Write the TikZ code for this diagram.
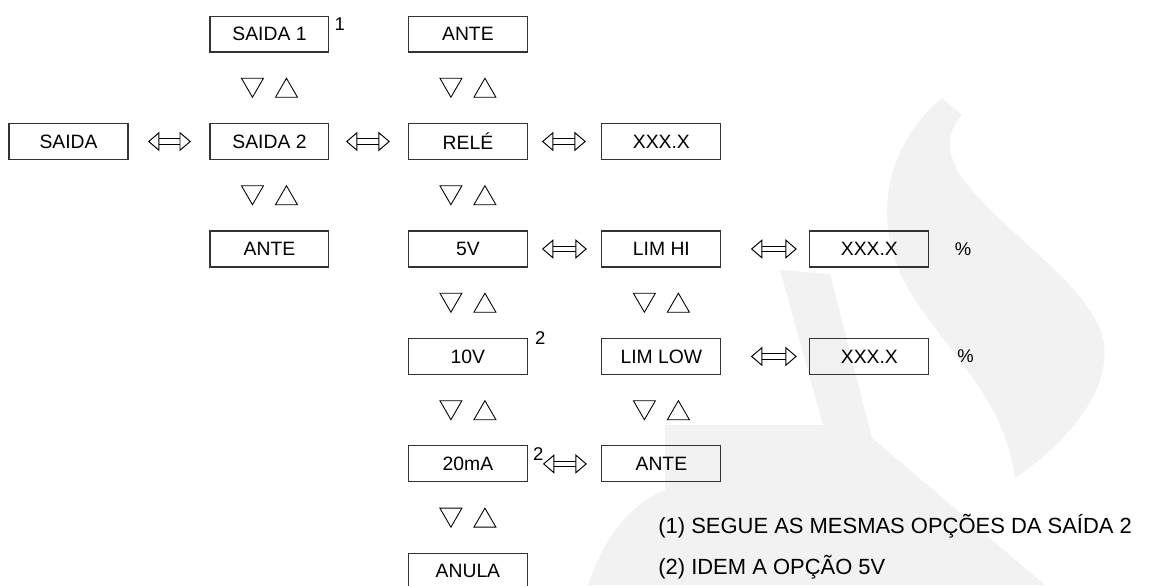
\documentclass[tikz,border=0pt]{standalone}
\usepackage{fontspec}
\setmainfont{Liberation Sans}
\usetikzlibrary{arrows.meta, calc, positioning}

\definecolor{logogray}{RGB}{242,242,242}
\tikzset{
  box/.style = {rectangle, draw=black!80, line width=0.6pt, minimum width=2.38cm, minimum height=0.72cm, inner sep=0pt, text centered, font=\fontsize{11}{13}\selectfont},
  sup/.style = {font=\fontsize{10.5}{12}\selectfont, inner sep=1pt},
  note/.style = {font=\fontsize{12.5}{23}\selectfont, inner sep=0pt, align=left},
  biarrow/.style = {double=white, double distance=2.6pt, line width=0.55pt, {Triangle[open, length=6.5pt, width=11pt]}-{Triangle[open, length=6.5pt, width=11pt]}},
  tri/.style = {line width=0.5pt},
  updown/.pic = {
    \draw[tri] (-28,-9.5) -- (-6,-9.5) -- (-17,9.5) -- cycle;
    \draw[tri] (6,9.5) -- (28,9.5) -- (17,-9.5) -- cycle;
  }
}

\begin{document}
\begin{tikzpicture}[x=0.02cm, y=-0.02cm, node distance=2.15cm]
\useasboundingbox (0,0) rectangle (1149,585);
% faint logo behind the menu
\fill[logogray] (942,98) .. controls (885,145) and (868,225) .. (912,295) .. controls (950,355) and (1005,400) .. (1015,478) .. controls (1085,430) and (1120,370) .. (1098,325) .. controls (1075,275) and (995,225) .. (960,175) .. controls (945,150) and (948,130) .. (962,115) -- cycle;
\fill[logogray] (780,270) -- (830,274) -- (872,438) -- (1045,585) -- (588,585) .. controls (605,535) and (630,505) .. (665,490) -- (665,425) -- (823,425) -- cycle;

\node (saida) [box] at (68.5,141.5) {SAIDA};
\node (saida2) [box, right of=saida, node distance=4.02cm] {SAIDA 2};
\node (saida1) [box, above of=saida2, label={[sup, anchor=north west, xshift=0.06cm]north east:1}] {SAIDA 1};
\node (anteB) [box, below of=saida2] {ANTE};
\node (rele) [box, right of=saida2, node distance=3.97cm] {RELÉ};
\node (anteC) [box, above of=rele] {ANTE};
\node (v5) [box, below of=rele] {5V};
\node (v10) [box, below of=v5, label={[sup, anchor=west, xshift=0.1cm]north east:2}] {10V};
\node (ma20) [box, below of=v10, label={[sup, anchor=north west, xshift=0.06cm]north east:2}] {20mA};
\node (anula) [box, below of=ma20] {ANULA};
\node (xrele) [box, right of=rele, node distance=3.87cm] {XXX.X};
\node (limhi) [box, right of=v5, node distance=3.87cm] {LIM HI};
\node (limlow) [box, below of=limhi] {LIM LOW};
\node (anteD) [box, below of=limlow] {ANTE};
\node (xhi) [box, right of=limhi, node distance=4.16cm, label={[sup, label distance=0.47cm]east:\%}] {XXX.X};
\node (xlow) [box, right of=limlow, node distance=4.16cm, label={[sup, label distance=0.52cm]east:\%}] {XXX.X};

\node (notes) [note, anchor=north west] at (658,514) {(1) SEGUE AS MESMAS OPÇÕES DA SAÍDA 2\\(2) IDEM A OPÇÃO 5V};

\draw [biarrow, shorten <=0.39cm, shorten >=0.37cm] (saida) -- (saida2);
\draw [biarrow, shorten <=0.33cm, shorten >=0.36cm] (saida2) -- (rele);
\draw [biarrow, shorten <=0.28cm, shorten >=0.31cm] (rele) -- (xrele);
\draw [biarrow, shorten <=0.28cm, shorten >=0.29cm] (v5) -- (limhi);
\draw [biarrow, shorten <=0.59cm, shorten >=0.25cm] (limhi) -- (xhi);
\draw [biarrow, shorten <=0.59cm, shorten >=0.25cm] (limlow) -- (xlow);
\draw [biarrow, shorten <=0.30cm, shorten >=0.29cm] (ma20) -- (anteD);

\pic at ($(saida1)!0.5!(saida2)$) {updown};
\pic at ($(saida2)!0.5!(anteB)$) {updown};
\pic at ($(anteC)!0.5!(rele)$) {updown};
\pic at ($(rele)!0.5!(v5)$) {updown};
\pic at ($(v5)!0.5!(v10)$) {updown};
\pic at ($(v10)!0.5!(ma20)$) {updown};
\pic at ($(ma20)!0.5!(anula)$) {updown};
\pic at ($(limhi)!0.5!(limlow)$) {updown};
\pic at ($(limlow)!0.5!(anteD)$) {updown};
\end{tikzpicture}
\end{document}
